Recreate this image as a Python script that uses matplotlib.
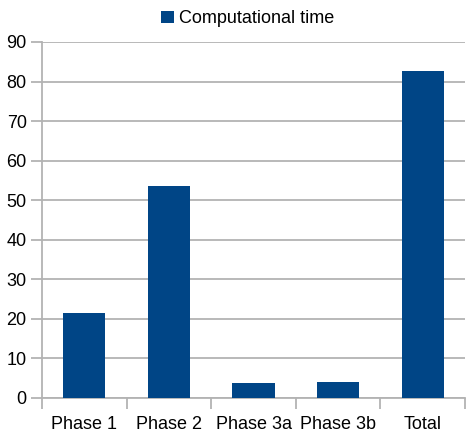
import numpy as np
import matplotlib
matplotlib.use("Agg")
import matplotlib.pyplot as plt
from matplotlib.ticker import FixedLocator

# Data
phases = ["Phase 1", "Phase 2", "Phase 3a", "Phase 3b", "Total"]
comp_time = [21.5, 53.6, 3.8, 4.0, 82.7]
series_name = "Computational time"

bar_color = "#004586"
grid_color = "#b3b3b3"

plt.rcParams['font.family'] = ['Liberation Sans', 'DejaVu Sans']

fig = plt.figure(figsize=(4.66, 4.34), dpi=100)
ax = fig.add_axes([42 / 466, 1 - 398 / 434, 423 / 466, (398 - 42) / 434])

x = np.arange(len(phases))
ax.bar(x, comp_time, width=0.5, color=bar_color, label=series_name, zorder=3)

# axes and grid
ax.set_xlim(-0.5, len(phases) - 0.5)
ax.set_ylim(0, 90)
ax.set_yticks(np.arange(0, 91, 10))
ax.yaxis.grid(True, color=grid_color, linewidth=1.3, zorder=0)
ax.set_axisbelow(True)

for s in ["top", "right"]:
    ax.spines[s].set_visible(False)
for s in ["left", "bottom"]:
    ax.spines[s].set_color(grid_color)
    ax.spines[s].set_linewidth(1.3)

ax.set_xticks(x)
ax.set_xticklabels(phases)
ax.xaxis.set_minor_locator(FixedLocator(np.arange(-0.5, len(phases), 1.0)))
ax.tick_params(axis="x", which="major", length=0, pad=13, labelsize=13)
ax.tick_params(axis="x", which="minor", length=8, width=1.3, color=grid_color)
ax.tick_params(axis="y", length=8, width=1.3, color=grid_color, labelsize=13, pad=3)

# legend above the plot
fig.legend(loc="upper center", bbox_to_anchor=(0.532, 1.014), frameon=False,
           fontsize=13, handlelength=0.7, handleheight=0.7, handletextpad=0.3)

fig.savefig("out.png", dpi=100)
